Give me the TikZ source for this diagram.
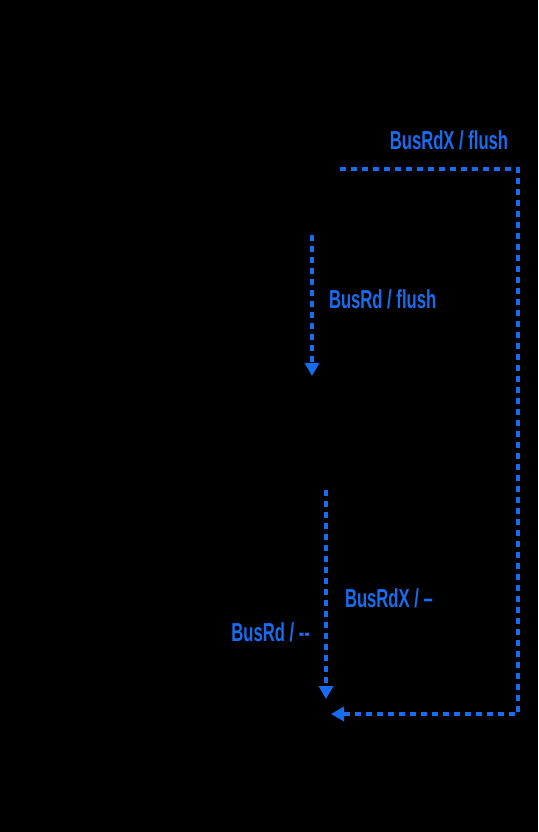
\documentclass[tikz,border=0pt]{standalone}
\usepackage{fontspec}
\usepackage{xcolor}
\usepackage{tikz}
\usetikzlibrary{arrows.meta, positioning}
\newfontfamily\lblfont[FakeStretch=0.64]{Liberation Sans}
\definecolor{busblue}{RGB}{24, 108, 240}

\begin{document}
\begin{tikzpicture}[
    x=1pt, y=-1pt,
    every node/.style={inner sep=0pt, outer sep=0pt},
    busedge/.style={draw=busblue, line width=3.6pt, dash pattern=on 6pt off 5pt, -{Triangle[width=14pt,length=13pt]}},
    buslabel/.style={text=busblue, font=\lblfont\bfseries\fontsize{26}{28}\selectfont}
]

% Background
\fill[black] (0,0) rectangle (538,832);
\useasboundingbox (0,0) rectangle (538,832);

% Connector end points
\coordinate (mtop) at (340,169);
\coordinate (mcorner) at (518,169);
\coordinate (icorner) at (518,714);
\coordinate (iin) at (331,714);
\coordinate (mout) at (312,235);
\coordinate (sin) at (312,376);
\coordinate (sout) at (326,490);
\coordinate (iup) at (326,699);

% Connections
\draw[busedge] (mtop) -- (mcorner) -- (icorner) -- (iin);
\draw[busedge] (mout) -- (sin);
\draw[busedge] (sout) -- (iup);

% Labels
\node[buslabel] (lflushx) at (449,140) {BusRdX / flush};
\node[buslabel, anchor=west] (lflush) at (329,299) {BusRd / flush};
\node[buslabel, anchor=west] (lnonex) at (345,598) {BusRdX / \textendash};
\node[buslabel, anchor=east] (lnone) at (310,632) {BusRd / -{}-};

\end{tikzpicture}
\end{document}
